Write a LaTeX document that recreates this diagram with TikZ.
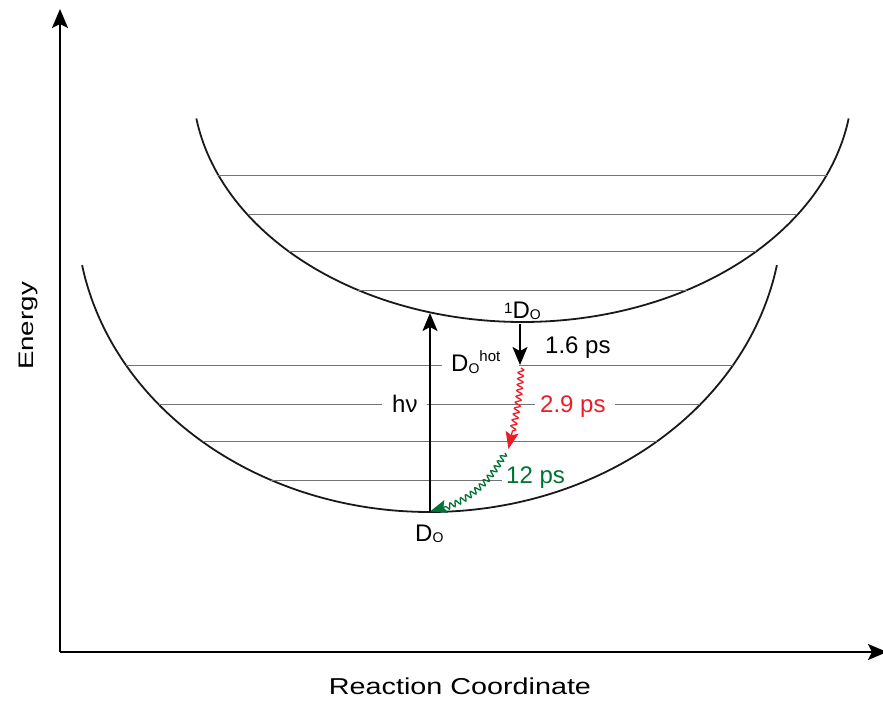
\documentclass[tikz,border=0pt]{standalone}
\usepackage{fontspec}
\setmainfont{Liberation Sans}
\usepackage{graphicx}
\usepackage{tikz}
\usetikzlibrary{arrows.meta}
\usetikzlibrary{decorations.pathmorphing}
\definecolor{relaxred}{RGB}{237,28,36}
\definecolor{relaxgreen}{RGB}{0,114,54}
\newcommand{\subtxt}[1]{\raisebox{-1.5pt}{\fontsize{14}{14}\selectfont #1}}
\newcommand{\suptxt}[2]{\raisebox{#1}{\fontsize{15}{15}\selectfont #2}}
\tikzstyle{curve}=[line width=1.8pt, black!90]
\tikzstyle{vib}=[line width=1pt, black!55]
\tikzstyle{axis}=[line width=2pt, -{Stealth[length=19pt,width=16pt,inset=4pt]}]
\tikzstyle{excite}=[line width=1.8pt, -{Stealth[length=18pt,width=15pt,inset=4pt]}]
\tikzstyle{wave}=[line width=1.3pt, decorate, decoration={snake,segment length=6pt,amplitude=2.8pt,post length=16pt}, -{Stealth[length=17pt,width=13pt,inset=3pt]}]
\tikzstyle{lbl}=[inner sep=0pt, font=\fontsize{24}{24}\selectfont]

\begin{document}
\begin{tikzpicture}[x=1pt,y=-1pt]
\useasboundingbox (0,0) rectangle (883,702);
% axes
\coordinate (O) at (60,652);
\coordinate (ytip) at (60,9);
\coordinate (xtip) at (887,652);
\draw[axis] (O) -- (ytip);
\draw[axis] (O) -- (xtip);
\node[rotate=90, anchor=base, font=\fontsize{21}{21}\selectfont] (ylab) at (33,326) {\scalebox{1.32}[1]{Energy}};
\node[anchor=base, font=\fontsize{23}{23}\selectfont] (xlab) at (460,694) {\scalebox{1.25}[1]{Reaction Coordinate}};
% potential curves
\draw[curve, domain=8.75:171.25, samples=120, smooth] plot ({522.5+330*cos(\x)}, {82+240*sin(\x)});
\draw[curve, domain=10.2:169.8, samples=120, smooth] plot ({429.5+353*cos(\x)}, {212+300*sin(\x)});
% vibrational levels
\foreach \y in {175.3,214.7,251.7,290}
  \draw[vib] ({522.5-330*sqrt(1-((\y-82)/240)^2)},\y) -- ({522.5+330*sqrt(1-((\y-82)/240)^2)},\y);
\draw[vib] (125.9,365) -- (442,365) (519,365) -- (733.1,365);
\draw[vib] (158.6,404.3) -- (382,404.3) (427,404.3) -- (535,404.3) (615,404.3) -- (700.4,404.3);
\draw[vib] (202.5,441.7) -- (656.5,441.7);
\draw[vib] (270.9,480) -- (502,480);
% labels
\node[lbl, anchor=base west] (S1) at (504,318.3) {\suptxt{5pt}{1}D\subtxt{O}};
\node[lbl, anchor=base west] (t1) at (545,353.5) {1.6 ps};
\node[lbl, anchor=base west] (hotlab) at (451,371.7) {D\subtxt{O}\suptxt{10pt}{hot}};
\node[lbl, anchor=base west] (hv) at (392,412) {hν};
\node[lbl, anchor=base west, text=relaxred] (t2) at (540,412.7) {2.9 ps};
\node[lbl, anchor=base west, text=relaxgreen] (t3) at (506,483.3) {12 ps};
\node[lbl, anchor=base west] (S0) at (415,541) {D\subtxt{O}};
% transitions
\coordinate (gs) at (430,511.5);
\coordinate (fc) at (430,313);
\coordinate (s1min) at (520,323.5);
\coordinate (hot) at (520,365);
\coordinate (redstart) at (521,368);
\coordinate (redend) at (508.5,449);
\coordinate (greenstart) at (505,453);
\draw[excite] (gs) -- (fc);
\draw[excite] (s1min) -- (hot);
\draw[wave, relaxred] (redstart) to[out=-92,in=78] (redend);
\draw[wave, relaxgreen] (greenstart) to[out=-118,in=15] (gs);
\end{tikzpicture}
\end{document}
